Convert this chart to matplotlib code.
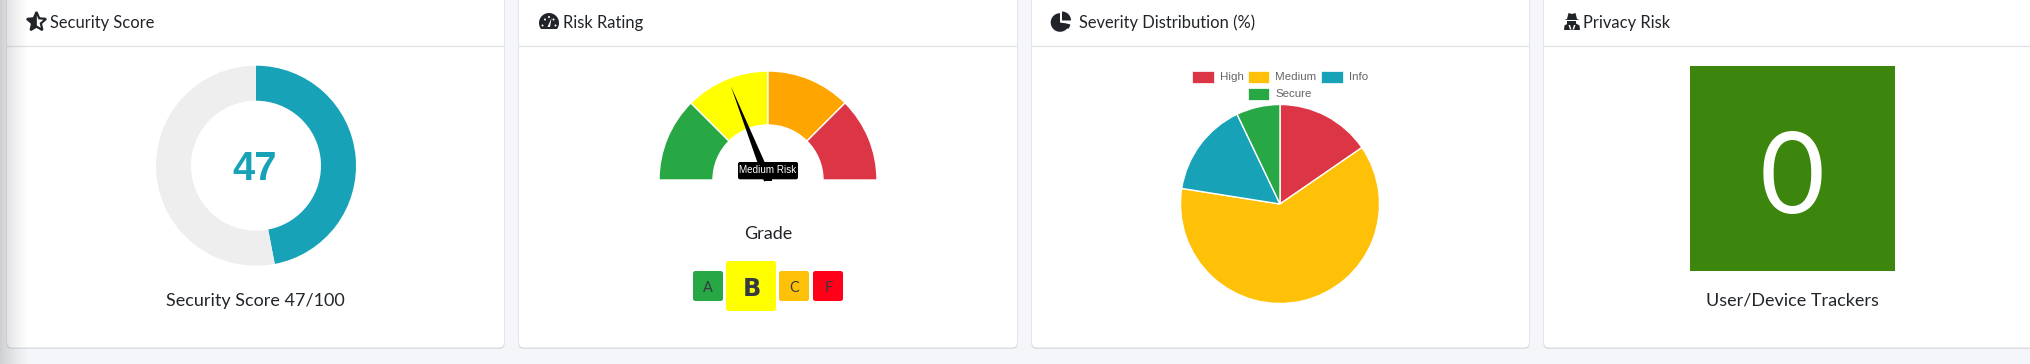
import numpy as np
import matplotlib
matplotlib.use("Agg")
import matplotlib.pyplot as plt
from matplotlib.patches import FancyBboxPatch, Rectangle, Polygon, Circle

W, H = 2030, 364
BODY = "Lato"
ARIAL = "Liberation Sans"
DARK = "#212529"
PX = 0.72

score_values = [47, 53]
score_colors = ["#17a2b8", "#eeeeee"]
score_number = "47"
score_caption = "Security Score 47/100"

gauge_segments = [25, 25, 25, 25]
gauge_colors = ["#28a745", "#ffff00", "#ffa500", "#dc3545"]
gauge_needle = 38
gauge_label = "Medium Risk"

grade_labels = ["A", "B", "C", "F"]
grade_colors = ["#28a745", "#ffff00", "#ffc107", "#ff0019"]

severity_labels = ["High", "Medium", "Info", "Secure"]
severity_values = [15.4, 62.1, 15.4, 7.1]
severity_colors = ["#dc3545", "#ffc107", "#17a2b8", "#28a745"]

tracker_count = "0"
tracker_caption = "User/Device Trackers"
titles = ["Security Score", "Risk Rating", "Severity Distribution (%)", "Privacy Risk"]

fig = plt.figure(figsize=(W / 100, H / 100), dpi=100, facecolor="#f4f6f9")
bg = fig.add_axes([0, 0, 1, 1], zorder=0)
bg.set_xlim(0, W)
bg.set_ylim(H, 0)
bg.axis("off")


def chart_axes(cx, cy, r):
    ax = fig.add_axes([(cx - r) / W, 1 - (cy + r) / H, 2 * r / W, 2 * r / H], zorder=2)
    return ax


def finish(ax, r):
    ax.set_xlim(-r, r)
    ax.set_ylim(-r, r)
    ax.set_aspect("equal")
    ax.axis("off")


# cards
cards = [(7, 504), (519, 1017), (1032, 1529), (1544, 2060)]
title_x = [49.7, 563, 1078.7, 1583]
for (x0, x1), t, tx in zip(cards, titles, title_x):
    bg.add_patch(FancyBboxPatch((x0 - 0.5, -6), x1 - x0 + 1, 354.8,
                                boxstyle="round,pad=0,rounding_size=5",
                                fc="#d5d8dc", ec="none", zorder=1))
    bg.add_patch(FancyBboxPatch((x0, -6), x1 - x0, 353.6,
                                boxstyle="round,pad=0,rounding_size=5",
                                fc="white", ec="none", zorder=2))
    bg.plot([x0, x1], [45.5, 45.5], color="#dfe2e6", lw=0.9, zorder=3)
    bg.text(tx, 23, t, family=BODY, fontsize=16.5 * PX, color=DARK, ha="left", va="center", zorder=4)

# left edge shade
grad = np.zeros((1, 30, 4))
grad[..., :3] = 0.25
grad[0, :, 3] = np.linspace(0.30, 0, 30) ** 1.3
bg.imshow(grad, extent=(0, 30, H, 0), aspect="auto", zorder=8, interpolation="bilinear")
bg.set_xlim(0, W)
bg.set_ylim(H, 0)


# icons
def star_pts(cx, cy, R, r):
    a = np.deg2rad(np.arange(10) * 36 - 90)
    rad = np.where(np.arange(10) % 2 == 0, R, r)
    return np.c_[cx + rad * np.cos(a), cy + rad * np.sin(a)]


bg.add_patch(Polygon(star_pts(36.5, 22, 10, 4.6), closed=True, fc="white", ec=DARK, lw=1.6, zorder=5))
s = star_pts(36.5, 22, 10, 4.6)
bg.add_patch(Polygon(np.vstack([s[0], s[5:]]), closed=True, fc=DARK, ec=DARK, lw=0.5, zorder=6))

gc = Circle((549, 23), 10, fc=DARK, ec="none", zorder=5)
bg.add_patch(gc)
gc.set_clip_path(Rectangle((530, 10), 40, 19.2, transform=bg.transData))
for dx, dy in [(-6.5, 2.5), (-4, -3.5), (0, -6), (6.5, 2.5), (4.5, -3.5)]:
    bg.add_patch(Circle((549 + dx, 23 + dy), 1.0, fc="white", ec="none", zorder=6))
bg.add_patch(Polygon([(547.5, 27), (550, 27), (551.5, 18)], closed=True, fc="white", ec="none", zorder=6))


def sector(cx, cy, r, a0, a1):
    t = np.deg2rad(np.linspace(a0, a1, 40) - 90)
    return np.vstack([[cx, cy], np.c_[cx + r * np.cos(t), cy + r * np.sin(t)]])


bg.add_patch(Polygon(sector(1060, 22.5, 9.3, 100, 360), closed=True, fc=DARK, ec="none", zorder=5))
bg.add_patch(Polygon(sector(1062, 20.5, 9, 0, 90), closed=True, fc=DARK, ec="none", zorder=5))
bg.add_patch(Polygon(sector(1062, 23, 8.5, 100, 135), closed=True, fc=DARK, ec="none", zorder=5))

bg.add_patch(Polygon([(1567, 19), (1568.5, 13), (1572, 14), (1575.5, 13), (1577, 19), (1579.5, 20),
                      (1564.5, 20)], closed=True, fc=DARK, ec="none", zorder=5))
bg.add_patch(Polygon([(1564, 30), (1564.5, 25.5), (1568, 23.5), (1576, 23.5), (1579.5, 25.5), (1580, 30)],
                     closed=True, fc=DARK, ec="none", zorder=5))
bg.add_patch(Rectangle((1567.5, 20.5), 9, 3.5, fc=DARK, ec="none", zorder=5))
bg.add_patch(Polygon([(1570, 25), (1571.5, 29.5), (1570, 29.5), (1568.5, 25)], closed=True, fc="white", ec="none", zorder=6))
bg.add_patch(Polygon([(1574, 25), (1572.5, 29.5), (1574, 29.5), (1575.5, 25)], closed=True, fc="white", ec="none", zorder=6))

# security score donut
ax = chart_axes(256, 165.7, 101)
ax.pie(score_values, colors=score_colors, startangle=90, counterclock=False, radius=100,
       wedgeprops=dict(width=35, linewidth=0))
finish(ax, 101)
bg.text(255, 164.5, score_number, family=ARIAL, weight="bold", fontsize=40 * PX,
        color=score_colors[0], ha="center", va="center_baseline", zorder=4)
bg.text(255.5, 301, score_caption, family=BODY, fontsize=18 * PX, color=DARK, ha="center", va="center", zorder=4)

# risk gauge
ax = chart_axes(768, 180, 110)
ax.pie(gauge_segments + [sum(gauge_segments)], colors=gauge_colors + ["none"], startangle=180,
       counterclock=False, radius=109, wedgeprops=dict(width=54, linewidth=1, edgecolor="white"))
ax.patches[-1].set_visible(False)
ang = np.deg2rad(180 - 180 * gauge_needle / sum(gauge_segments))
u = np.array([np.cos(ang), np.sin(ang)])
v = np.array([-u[1], u[0]])
ax.add_patch(Polygon([u * 101, v * 4.2, -v * 4.2], closed=True, fc="black", ec="none", zorder=5))
finish(ax, 110)
ax2 = fig.add_axes([0, 0, 1, 1], zorder=3)
ax2.set_xlim(0, W)
ax2.set_ylim(H, 0)
ax2.axis("off")
ax2.add_patch(Rectangle((764, 176), 8, 5.3, fc="black", ec="none"))
ax2.add_patch(FancyBboxPatch((738, 162), 60, 17.3, boxstyle="round,pad=0,rounding_size=2", fc="black", ec="none"))
ax2.text(768, 170, gauge_label, family=ARIAL, fontsize=9.9 * PX, color="white", ha="center", va="center")
bg.text(768, 234, "Grade", family=BODY, fontsize=18 * PX, color=DARK, ha="center", va="center", zorder=4)

grade_boxes = [(693, 271, 30), (726, 261, 50), (779, 271, 30), (813, 271, 30)]
for lab, col, (x, y, sz) in zip(grade_labels, grade_colors, grade_boxes):
    big = sz > 40
    bg.add_patch(FancyBboxPatch((x, y), sz, sz, boxstyle="round,pad=0,rounding_size=2.5", fc=col, ec="none", zorder=3))
    bg.text(x + sz / 2 + (0.7 if big else 0.3), y + sz / 2 + 0.5, lab, family="DejaVu Sans" if big else BODY,
            weight="bold" if big else "normal",
            fontsize=(24 if big else 14.5) * PX, color="#343a40", ha="center", va="center_baseline", zorder=4)

# severity pie
ax = chart_axes(1280, 204, 101)
ax.pie(severity_values, colors=severity_colors, startangle=90, counterclock=False, radius=99.5,
       wedgeprops=dict(linewidth=1, edgecolor="white"))
finish(ax, 101)
legend_pos = [(1192.3, 71), (1248, 71), (1321.3, 71), (1248, 88)]
for lab, col, (x, y) in zip(severity_labels, severity_colors, legend_pos):
    bg.add_patch(Rectangle((x, y), 21.3, 11.5, fc=col, ec="white", lw=0.5, zorder=3))
    bg.text(x + 27.3, y + 5.8, lab, family=ARIAL, fontsize=11.5 * PX, color="#666666", ha="left", va="center", zorder=4)

# privacy tile
bg.add_patch(Rectangle((1690, 66), 205, 205, fc="#3c860e", ec="none", zorder=3))
bg.text(1792.5, 172, tracker_count, family=BODY, fontsize=112 * PX, color="white", ha="center",
        va="center_baseline", zorder=4)
bg.text(1792.7, 300, tracker_caption, family=BODY, fontsize=18 * PX, color=DARK, ha="center", va="center", zorder=4)

fig.savefig("out.png", dpi=100, facecolor=fig.get_facecolor())
